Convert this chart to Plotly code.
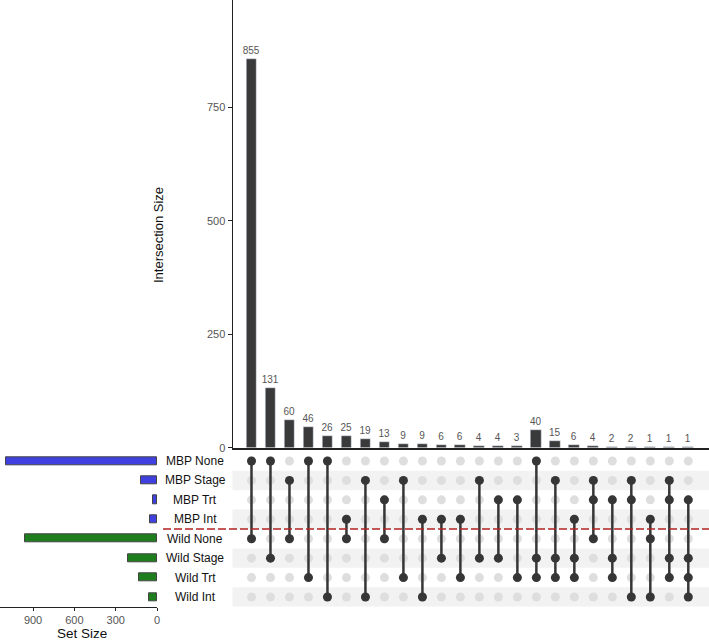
import plotly.graph_objects as go

W, H = 709, 640

set_names = ["MBP None", "MBP Stage", "MBP Trt", "MBP Int",
             "Wild None", "Wild Stage", "Wild Trt", "Wild Int"]
set_sizes = [1098, 114, 30, 53, 958, 210, 129, 58]
set_colors = ["#4040E0"] * 4 + ["#1E7E1E"] * 4

intersection_sizes = [855, 131, 60, 46, 26, 25, 19, 13, 9, 9, 6, 6,
                      4, 4, 3, 40, 15, 6, 4, 2, 2, 1, 1, 1]
intersection_sets = [
    ["MBP None", "Wild None"],
    ["MBP None", "Wild Stage"],
    ["MBP Stage", "Wild None"],
    ["MBP None", "Wild Trt"],
    ["MBP None", "Wild Int"],
    ["MBP Int", "Wild None"],
    ["MBP Stage", "Wild Int"],
    ["MBP Trt", "Wild None"],
    ["MBP Stage", "Wild Trt"],
    ["MBP Int", "Wild Int"],
    ["MBP Int", "Wild Stage"],
    ["MBP Int", "Wild Trt"],
    ["MBP Stage", "Wild Stage"],
    ["MBP Trt", "Wild Stage"],
    ["MBP Trt", "Wild Trt"],
    ["MBP None", "Wild Stage", "Wild Trt"],
    ["MBP Stage", "Wild Stage", "Wild Trt"],
    ["MBP Int", "Wild Stage", "Wild Trt"],
    ["MBP Stage", "MBP Trt", "Wild None"],
    ["MBP Trt", "Wild Stage", "Wild Trt"],
    ["MBP Stage", "MBP Trt", "Wild Int"],
    ["MBP Int", "Wild None", "Wild Int"],
    ["MBP Stage", "MBP Trt", "Wild Stage", "Wild Trt"],
    ["MBP Trt", "Wild Stage", "Wild Trt", "Wild Int"],
]
size_ticks = [900, 600, 300, 0]
inter_ticks = [0, 250, 500, 750]

def px(x):
    return x / W

def py(y):
    return 1 - y / H

font = "Liberation Sans, Arial, sans-serif"
ncol = len(intersection_sizes)
cols = list(range(ncol))
row_of = {n: i for i, n in enumerate(set_names)}

fig = go.Figure()

# Intersection bars
fig.add_trace(go.Bar(
    x=cols, y=intersection_sizes, width=0.57,
    marker=dict(color="#3a3a3a"),
    text=[str(v) for v in intersection_sizes], textposition="outside",
    constraintext="none",
    textfont=dict(size=10, color="#555555", family=font),
    cliponaxis=False, xaxis="x", yaxis="y", showlegend=False,
))

# Matrix background dots
gx, gy = [], []
for c in cols:
    for r in range(len(set_names)):
        gx.append(c)
        gy.append(r)
fig.add_trace(go.Scatter(
    x=gx, y=gy, mode="markers",
    marker=dict(size=9, color="#dedede"),
    xaxis="x2", yaxis="y2", showlegend=False, hoverinfo="skip",
))

# Connecting lines and active dots
ax, ay = [], []
for c, sets in zip(cols, intersection_sets):
    rows = sorted(row_of[s] for s in sets)
    fig.add_trace(go.Scatter(
        x=[c, c], y=[rows[0], rows[-1]], mode="lines",
        line=dict(color="#363636", width=2.5),
        xaxis="x2", yaxis="y2", showlegend=False, hoverinfo="skip",
    ))
    for r in rows:
        ax.append(c)
        ay.append(r)
fig.add_trace(go.Scatter(
    x=ax, y=ay, mode="markers",
    marker=dict(size=9, color="#363636"),
    xaxis="x2", yaxis="y2", showlegend=False,
))

# Set size bars
fig.add_trace(go.Bar(
    x=set_sizes, y=list(range(len(set_names))), orientation="h", width=0.42,
    marker=dict(color=set_colors, line=dict(color="#444444", width=1)),
    xaxis="x3", yaxis="y3", showlegend=False,
))

top_dom = [py(447.7), 1.0]
mat_dom = [py(606.7), py(451.3)]
main_x_dom = [px(232.5), 1.0]

fig.update_layout(
    width=W, height=H, margin=dict(l=0, r=0, t=0, b=0, autoexpand=False),
    plot_bgcolor="white", paper_bgcolor="white",
    font=dict(family=font),
    bargap=0,
    xaxis=dict(domain=main_x_dom, range=[-1, 24.09], showticklabels=False,
               showgrid=False, zeroline=False, showline=True,
               linecolor="#222222", linewidth=1.5, anchor="y", ticks=""),
    yaxis=dict(domain=top_dom, range=[0, 986], tickvals=inter_ticks,
               showgrid=False, zeroline=False, showline=True,
               linecolor="#222222", linewidth=1, ticks="outside", ticklen=4,
               tickcolor="#222222",
               tickfont=dict(size=11, color="#555555"), anchor="x"),
    xaxis2=dict(domain=main_x_dom, range=[-1, 24.09], showticklabels=False,
                showgrid=False, zeroline=False, showline=False, anchor="y2"),
    yaxis2=dict(domain=mat_dom, range=[7.5, -0.5], showticklabels=False,
                showgrid=False, zeroline=False, showline=False, anchor="x2"),
    xaxis3=dict(domain=[0, px(157)], range=[1140, 0], tickvals=size_ticks,
                showgrid=False, zeroline=False, showline=True,
                linecolor="#222222", linewidth=1, ticks="outside", ticklen=3,
                tickcolor="#222222",
                tickfont=dict(size=11, color="#555555"), anchor="y3"),
    yaxis3=dict(domain=mat_dom, range=[7.5, -0.5], showticklabels=False,
                showgrid=False, zeroline=False, showline=False, anchor="x3"),
)

shapes = []
for r in range(1, len(set_names), 2):
    shapes.append(dict(type="rect", xref="paper", yref="y2",
                       x0=px(232.5), x1=1, y0=r - 0.5, y1=r + 0.5,
                       fillcolor="#f2f2f2", line=dict(width=0), layer="below"))
shapes.append(dict(type="line", xref="paper", yref="y2",
                   x0=px(163), x1=1, y0=3.5, y1=3.5,
                   line=dict(color="#b22222", width=1.3, dash="8px,3px")))
fig.update_layout(shapes=shapes)

annotations = []
for i, n in enumerate(set_names):
    annotations.append(dict(x=px(195), y=i, xref="paper", yref="y3",
                            text=n, showarrow=False, xanchor="center",
                            yanchor="middle",
                            font=dict(size=12, color="#111111", family=font)))
annotations.append(dict(x=px(158), y=py(235), xref="paper", yref="paper",
                        text="Intersection Size", textangle=-90,
                        showarrow=False, xanchor="center", yanchor="middle",
                        font=dict(size=13, color="#111111", family=font)))
annotations.append(dict(x=px(82), y=py(633.5), xref="paper", yref="paper",
                        text="Set Size", showarrow=False, xanchor="center",
                        yanchor="middle",
                        font=dict(size=13.5, color="#111111", family=font)))
fig.update_layout(annotations=annotations)

fig.write_html("out.html", config={"displayModeBar": False})

with open("out.html", "r", encoding="utf-8") as f:
    html = f.read()
html = html.replace("<head>", "<head><style>html,body{margin:0;padding:0;overflow:hidden;}</style>", 1)
with open("out.html", "w", encoding="utf-8") as f:
    f.write(html)
